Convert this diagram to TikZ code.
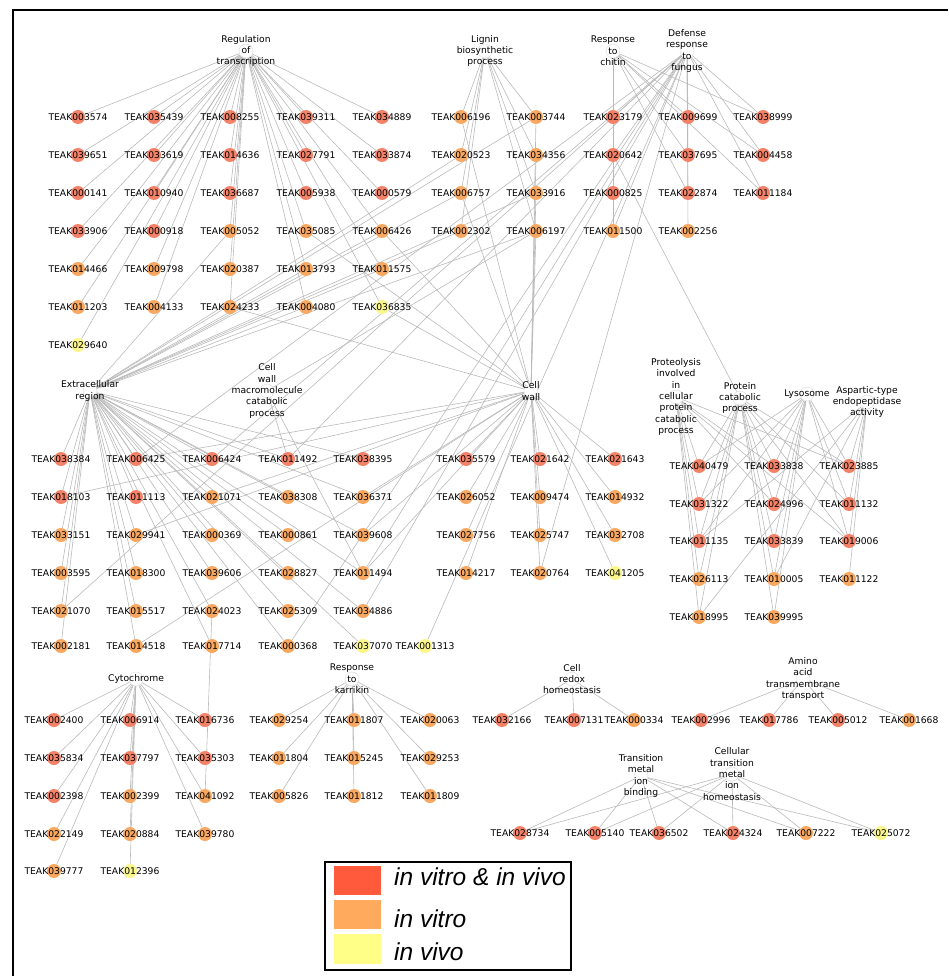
\documentclass[tikz,border=0pt]{standalone}
\usepackage{fontspec}
\setmainfont{DejaVu Sans}
\newfontfamily\legendfont{Liberation Sans}
\usetikzlibrary{backgrounds}
\definecolor{bothc}{RGB}{243,130,104}
\definecolor{vitroc}{RGB}{248,168,96}
\definecolor{vivoc}{RGB}{250,246,140}
\definecolor{keyboth}{RGB}{255,90,60}
\definecolor{keyvitro}{RGB}{255,170,92}
\definecolor{keyvivo}{RGB}{255,255,136}
\tikzset{
  both/.style={circle,fill=bothc,minimum size=14pt,inner sep=0pt},
  vitro/.style={circle,fill=vitroc,minimum size=14pt,inner sep=0pt},
  vivo/.style={circle,fill=vivoc,minimum size=14pt,inner sep=0pt},
  term/.style={circle,draw=black!15,fill=white,minimum size=14pt,inner sep=0pt},
  every label/.style={font=\fontsize{9.2}{11.3}\selectfont,align=center,inner sep=0pt},
}
\begin{document}
\begin{tikzpicture}[x=1pt,y=-1pt]
\useasboundingbox (0,0) rectangle (948,976);
\draw[line width=1.5pt] (13,976) -- (13,10) -- (948,10);

% go terms
\node[term,label=center:Regulation\\of\\transcription] (reg) at (246,51) {};
\node[term,label=center:Lignin\\biosynthetic\\process] (lig) at (485,51) {};
\node[term,label=center:Response\\to\\chitin] (chi) at (613,51) {};
\node[term,label=center:Defense\\response\\to\\fungus] (fun) at (687,51) {};
\node[term,label=center:Extracellular\\region] (ecr) at (90,391) {};
\node[term,label=center:Cell\\wall\\macromolecule\\catabolic\\process] (cwm) at (267,391) {};
\node[term,label=center:Cell\\wall] (cwl) at (531,391) {};
\node[term,label=center:Proteolysis\\involved\\in\\cellular\\protein\\catabolic\\process] (pro) at (676,397) {};
\node[term,label=center:Protein\\catabolic\\process] (pcp) at (740,398) {};
\node[term,label=center:Lysosome] (lys) at (807,394) {};
\node[term,label=center:Aspartic-type\\endopeptidase\\activity] (asp) at (867,402) {};
\node[term,label=center:Cytochrome] (cyt) at (136,679) {};
\node[term,label=center:Response\\to\\karrikin] (kar) at (352,679) {};
\node[term,label=center:Cell\\redox\\homeostasis] (red) at (572,679) {};
\node[term,label=center:Amino\\acid\\transmembrane\\transport] (ami) at (803,679) {};
\node[term,label=center:Transition\\metal\\ion\\binding] (tmb) at (641,776) {};
\node[term,label=center:Cellular\\transition\\metal\\ion\\homeostasis] (tmh) at (732,774) {};

% regulation of transcription
\node[both,label=center:TEAK003574] (t003574) at (78,117) {};
\node[both,label=center:TEAK039651] (t039651) at (78,155) {};
\node[both,label=center:TEAK000141] (t000141) at (78,193) {};
\node[both,label=center:TEAK033906] (t033906) at (78,231) {};
\node[vitro,label=center:TEAK014466] (t014466) at (78,269) {};
\node[vitro,label=center:TEAK011203] (t011203) at (78,307) {};
\node[vivo,label=center:TEAK029640] (t029640) at (78,345) {};
\node[both,label=center:TEAK035439] (t035439) at (154,117) {};
\node[both,label=center:TEAK033619] (t033619) at (154,155) {};
\node[both,label=center:TEAK010940] (t010940) at (154,193) {};
\node[both,label=center:TEAK000918] (t000918) at (154,231) {};
\node[vitro,label=center:TEAK009798] (t009798) at (154,269) {};
\node[vitro,label=center:TEAK004133] (t004133) at (154,307) {};
\node[both,label=center:TEAK008255] (t008255) at (230,117) {};
\node[both,label=center:TEAK014636] (t014636) at (230,155) {};
\node[both,label=center:TEAK036687] (t036687) at (230,193) {};
\node[vitro,label=center:TEAK005052] (t005052) at (230,231) {};
\node[vitro,label=center:TEAK020387] (t020387) at (230,269) {};
\node[vitro,label=center:TEAK024233] (t024233) at (230,307) {};
\node[both,label=center:TEAK039311] (t039311) at (306,117) {};
\node[both,label=center:TEAK027791] (t027791) at (306,155) {};
\node[both,label=center:TEAK005938] (t005938) at (306,193) {};
\node[vitro,label=center:TEAK035085] (t035085) at (306,231) {};
\node[vitro,label=center:TEAK013793] (t013793) at (306,269) {};
\node[vitro,label=center:TEAK004080] (t004080) at (306,307) {};
\node[both,label=center:TEAK034889] (t034889) at (382,117) {};
\node[both,label=center:TEAK033874] (t033874) at (382,155) {};
\node[both,label=center:TEAK000579] (t000579) at (382,193) {};
\node[vitro,label=center:TEAK006426] (t006426) at (382,231) {};
\node[vitro,label=center:TEAK011575] (t011575) at (382,269) {};
\node[vivo,label=center:TEAK036835] (t036835) at (382,307) {};

% lignin, chitin, fungus
\node[vitro,label=center:TEAK006196] (t006196) at (461,117) {};
\node[vitro,label=center:TEAK020523] (t020523) at (461,155) {};
\node[vitro,label=center:TEAK006757] (t006757) at (461,193) {};
\node[vitro,label=center:TEAK002302] (t002302) at (461,231) {};
\node[vitro,label=center:TEAK003744] (t003744) at (536,117) {};
\node[vitro,label=center:TEAK034356] (t034356) at (536,155) {};
\node[vitro,label=center:TEAK033916] (t033916) at (536,193) {};
\node[vitro,label=center:TEAK006197] (t006197) at (536,231) {};
\node[both,label=center:TEAK023179] (t023179) at (613,117) {};
\node[both,label=center:TEAK020642] (t020642) at (613,155) {};
\node[both,label=center:TEAK000825] (t000825) at (613,193) {};
\node[vitro,label=center:TEAK011500] (t011500) at (613,231) {};
\node[both,label=center:TEAK009699] (t009699) at (688,117) {};
\node[both,label=center:TEAK037695] (t037695) at (688,155) {};
\node[both,label=center:TEAK022874] (t022874) at (688,193) {};
\node[vitro,label=center:TEAK002256] (t002256) at (688,231) {};
\node[both,label=center:TEAK038999] (t038999) at (763,117) {};
\node[both,label=center:TEAK004458] (t004458) at (763,155) {};
\node[both,label=center:TEAK011184] (t011184) at (763,193) {};

% extracellular region
\node[both,label=center:TEAK038384] (t038384) at (61,459) {};
\node[both,label=center:TEAK018103] (t018103) at (61,497) {};
\node[vitro,label=center:TEAK033151] (t033151) at (61,535) {};
\node[vitro,label=center:TEAK003595] (t003595) at (61,573) {};
\node[vitro,label=center:TEAK021070] (t021070) at (61,611) {};
\node[vitro,label=center:TEAK002181] (t002181) at (61,646) {};
\node[both,label=center:TEAK006425] (t006425) at (136,459) {};
\node[both,label=center:TEAK011113] (t011113) at (136,497) {};
\node[vitro,label=center:TEAK029941] (t029941) at (136,535) {};
\node[vitro,label=center:TEAK018300] (t018300) at (136,573) {};
\node[vitro,label=center:TEAK015517] (t015517) at (136,611) {};
\node[vitro,label=center:TEAK014518] (t014518) at (136,646) {};
\node[both,label=center:TEAK006424] (t006424) at (212,459) {};
\node[vitro,label=center:TEAK021071] (t021071) at (212,497) {};
\node[vitro,label=center:TEAK000369] (t000369) at (212,535) {};
\node[vitro,label=center:TEAK039606] (t039606) at (212,573) {};
\node[vitro,label=center:TEAK024023] (t024023) at (212,611) {};
\node[vitro,label=center:TEAK017714] (t017714) at (212,646) {};
\node[both,label=center:TEAK011492] (t011492) at (288,459) {};
\node[vitro,label=center:TEAK038308] (t038308) at (288,497) {};
\node[vitro,label=center:TEAK000861] (t000861) at (288,535) {};
\node[vitro,label=center:TEAK028827] (t028827) at (288,573) {};
\node[vitro,label=center:TEAK025309] (t025309) at (288,611) {};
\node[vitro,label=center:TEAK000368] (t000368) at (288,646) {};
\node[both,label=center:TEAK038395] (t038395) at (363,459) {};
\node[vitro,label=center:TEAK036371] (t036371) at (363,497) {};
\node[vitro,label=center:TEAK039608] (t039608) at (363,535) {};
\node[vitro,label=center:TEAK011494] (t011494) at (363,573) {};
\node[vitro,label=center:TEAK034886] (t034886) at (363,611) {};
\node[vivo,label=center:TEAK037070] (t037070) at (363,646) {};
\node[vivo,label=center:TEAK001313] (t001313) at (425,646) {};

% cell wall
\node[both,label=center:TEAK035579] (t035579) at (466,459) {};
\node[vitro,label=center:TEAK026052] (t026052) at (466,497) {};
\node[vitro,label=center:TEAK027756] (t027756) at (466,535) {};
\node[vitro,label=center:TEAK014217] (t014217) at (466,573) {};
\node[both,label=center:TEAK021642] (t021642) at (540,459) {};
\node[vitro,label=center:TEAK009474] (t009474) at (540,497) {};
\node[vitro,label=center:TEAK025747] (t025747) at (540,535) {};
\node[vitro,label=center:TEAK020764] (t020764) at (540,573) {};
\node[both,label=center:TEAK021643] (t021643) at (615,459) {};
\node[vitro,label=center:TEAK014932] (t014932) at (615,497) {};
\node[vitro,label=center:TEAK032708] (t032708) at (615,535) {};
\node[vivo,label=center:TEAK041205] (t041205) at (615,573) {};

% proteolysis cluster
\node[both,label=center:TEAK040479] (t040479) at (699,466) {};
\node[both,label=center:TEAK031322] (t031322) at (699,504) {};
\node[both,label=center:TEAK011135] (t011135) at (699,541) {};
\node[vitro,label=center:TEAK026113] (t026113) at (699,579) {};
\node[vitro,label=center:TEAK018995] (t018995) at (699,617) {};
\node[both,label=center:TEAK033838] (t033838) at (774,466) {};
\node[both,label=center:TEAK024996] (t024996) at (774,504) {};
\node[both,label=center:TEAK033839] (t033839) at (774,541) {};
\node[vitro,label=center:TEAK010005] (t010005) at (774,579) {};
\node[vitro,label=center:TEAK039995] (t039995) at (774,617) {};
\node[both,label=center:TEAK023885] (t023885) at (849,466) {};
\node[both,label=center:TEAK011132] (t011132) at (849,504) {};
\node[both,label=center:TEAK019006] (t019006) at (849,541) {};
\node[vitro,label=center:TEAK011122] (t011122) at (849,579) {};

% cytochrome
\node[both,label=center:TEAK002400] (t002400) at (54,720) {};
\node[both,label=center:TEAK035834] (t035834) at (54,758) {};
\node[both,label=center:TEAK002398] (t002398) at (54,796) {};
\node[vitro,label=center:TEAK022149] (t022149) at (54,834) {};
\node[vitro,label=center:TEAK039777] (t039777) at (54,871) {};
\node[both,label=center:TEAK006914] (t006914) at (130,720) {};
\node[both,label=center:TEAK037797] (t037797) at (130,758) {};
\node[vitro,label=center:TEAK002399] (t002399) at (130,796) {};
\node[vitro,label=center:TEAK020884] (t020884) at (130,834) {};
\node[vivo,label=center:TEAK012396] (t012396) at (130,871) {};
\node[both,label=center:TEAK016736] (t016736) at (205,720) {};
\node[both,label=center:TEAK035303] (t035303) at (205,758) {};
\node[vitro,label=center:TEAK041092] (t041092) at (205,796) {};
\node[vitro,label=center:TEAK039780] (t039780) at (205,834) {};

% karrikin
\node[vitro,label=center:TEAK029254] (t029254) at (279,720) {};
\node[vitro,label=center:TEAK011804] (t011804) at (279,758) {};
\node[vitro,label=center:TEAK005826] (t005826) at (279,796) {};
\node[vitro,label=center:TEAK011807] (t011807) at (354,720) {};
\node[vitro,label=center:TEAK015245] (t015245) at (354,758) {};
\node[vitro,label=center:TEAK011812] (t011812) at (354,796) {};
\node[vitro,label=center:TEAK020063] (t020063) at (430,720) {};
\node[vitro,label=center:TEAK029253] (t029253) at (430,758) {};
\node[vitro,label=center:TEAK011809] (t011809) at (430,796) {};

% redox, amino acid, metal
\node[both,label=center:TEAK032166] (t032166) at (502,720) {};
\node[both,label=center:TEAK007131] (t007131) at (574,720) {};
\node[vitro,label=center:TEAK000334] (t000334) at (634,720) {};
\node[both,label=center:TEAK002996] (t002996) at (701,720) {};
\node[both,label=center:TEAK017786] (t017786) at (769,720) {};
\node[both,label=center:TEAK005012] (t005012) at (838,720) {};
\node[vitro,label=center:TEAK001668] (t001668) at (909,720) {};
\node[both,label=center:TEAK028734] (t028734) at (520,833) {};
\node[both,label=center:TEAK005140] (t005140) at (595,833) {};
\node[both,label=center:TEAK036502] (t036502) at (659,833) {};
\node[both,label=center:TEAK024324] (t024324) at (733,833) {};
\node[vitro,label=center:TEAK007222] (t007222) at (806,833) {};
\node[vivo,label=center:TEAK025072] (t025072) at (881,833) {};

\begin{pgfonlayer}{background}
\begin{scope}[black!27,line width=0.6pt]
\draw (reg) edge (t003574);
\draw (reg) edge (t039651);
\draw (reg) edge (t000141);
\draw (reg) edge (t033906);
\draw (reg) edge (t014466);
\draw (reg) edge (t011203);
\draw (reg) edge (t029640);
\draw (reg) edge (t035439);
\draw (reg) edge (t033619);
\draw (reg) edge (t010940);
\draw (reg) edge (t000918);
\draw (reg) edge (t009798);
\draw (reg) edge (t004133);
\draw (reg) edge (t008255);
\draw (reg) edge (t014636);
\draw (reg) edge (t036687);
\draw (reg) edge (t005052);
\draw (reg) edge (t020387);
\draw (reg) edge (t024233);
\draw (reg) edge (t039311);
\draw (reg) edge (t027791);
\draw (reg) edge (t005938);
\draw (reg) edge (t035085);
\draw (reg) edge (t013793);
\draw (reg) edge (t004080);
\draw (reg) edge (t034889);
\draw (reg) edge (t033874);
\draw (reg) edge (t000579);
\draw (reg) edge (t006426);
\draw (reg) edge (t011575);
\draw (reg) edge (t036835);

\draw (lig) edge (t006196);
\draw (lig) edge (t020523);
\draw (lig) edge (t006757);
\draw (lig) edge (t002302);
\draw (lig) edge (t003744);
\draw (lig) edge (t034356);
\draw (lig) edge (t033916);
\draw (lig) edge (t006197);

\draw (chi) edge (t023179);
\draw (chi) edge (t020642);
\draw (chi) edge (t000825);
\draw (chi) edge (t011500);
\draw (chi) edge (t009699);
\draw (chi) edge (t037695);
\draw (chi) edge (t022874);
\draw (chi) edge (t038999);
\draw (chi) edge (t004458);
\draw (chi) edge (t011184);

\draw (fun) edge (t023179);
\draw (fun) edge (t020642);
\draw (fun) edge (t009699);
\draw (fun) edge (t037695);
\draw (fun) edge (t022874);
\draw (fun) edge (t002256);
\draw (fun) edge (t038999);
\draw (fun) edge (t004458);
\draw (fun) edge (t011184);
\draw (fun) edge (t011500);
\draw (fun) edge (t006425);
\draw (fun) edge (t006424);
\draw (fun) edge (t011492);
\draw (fun) edge (t011494);
\draw (fun) edge (t034886);
\draw (fun) edge (t000368);
\draw (fun) edge (t021070);
\draw (fun) edge (t020764);
\draw (fun) edge (t001313);

\draw (ecr) edge (t038384);
\draw (ecr) edge (t018103);
\draw (ecr) edge (t033151);
\draw (ecr) edge (t003595);
\draw (ecr) edge (t021070);
\draw (ecr) edge (t002181);
\draw (ecr) edge (t006425);
\draw (ecr) edge (t011113);
\draw (ecr) edge (t029941);
\draw (ecr) edge (t018300);
\draw (ecr) edge (t015517);
\draw (ecr) edge (t014518);
\draw (ecr) edge (t006424);
\draw (ecr) edge (t021071);
\draw (ecr) edge (t000369);
\draw (ecr) edge (t039606);
\draw (ecr) edge (t024023);
\draw (ecr) edge (t017714);
\draw (ecr) edge (t011492);
\draw (ecr) edge (t038308);
\draw (ecr) edge (t000861);
\draw (ecr) edge (t028827);
\draw (ecr) edge (t025309);
\draw (ecr) edge (t000368);
\draw (ecr) edge (t038395);
\draw (ecr) edge (t036371);
\draw (ecr) edge (t039608);
\draw (ecr) edge (t011494);
\draw (ecr) edge (t034886);
\draw (ecr) edge (t037070);
\draw (ecr) edge (t006757);
\draw (ecr) edge (t002302);
\draw (ecr) edge (t006197);
\draw (ecr) edge (t033916);
\draw (ecr) edge (t003744);
\draw (ecr) edge (t020523);
\draw (ecr) edge (t004080);
\draw (ecr) edge (t005052);
\draw (ecr) edge (t011575);
\draw (ecr) edge (t006426);
\draw (ecr) edge (t013793);

\draw (cwm) edge (t011492);
\draw (cwm) edge (t011494);
\draw (cwm) edge (t006197);

\draw (cwl) edge (t035579);
\draw (cwl) edge (t026052);
\draw (cwl) edge (t027756);
\draw (cwl) edge (t014217);
\draw (cwl) edge (t021642);
\draw (cwl) edge (t009474);
\draw (cwl) edge (t025747);
\draw (cwl) edge (t020764);
\draw (cwl) edge (t021643);
\draw (cwl) edge (t014932);
\draw (cwl) edge (t032708);
\draw (cwl) edge (t041205);
\draw (cwl) edge (t006196);
\draw (cwl) edge (t006757);
\draw (cwl) edge (t003744);
\draw (cwl) edge (t034356);
\draw (cwl) edge (t033916);
\draw (cwl) edge (t006197);
\draw (cwl) edge (t024233);
\draw (cwl) edge (t035085);
\draw (cwl) edge (t006426);
\draw (cwl) edge (t036835);
\draw (cwl) edge (t018103);
\draw (cwl) edge (t029941);
\draw (cwl) edge (t021071);
\draw (cwl) edge (t036371);
\draw (cwl) edge (t011494);
\draw (cwl) edge (t014518);
\draw (cwl) edge (t039608);
\draw (cwl) edge (t006425);

\draw (pro) edge (t040479);
\draw (pro) edge (t031322);
\draw (pro) edge (t011135);
\draw (pro) edge (t026113);
\draw (pro) edge (t018995);
\draw (pro) edge (t033838);
\draw (pro) edge (t024996);
\draw (pro) edge (t023885);
\draw (pro) edge (t019006);

\draw (pcp) edge (t040479);
\draw (pcp) edge (t031322);
\draw (pcp) edge (t011135);
\draw (pcp) edge (t026113);
\draw (pcp) edge (t018995);
\draw (pcp) edge (t033838);
\draw (pcp) edge (t024996);
\draw (pcp) edge (t033839);
\draw (pcp) edge (t010005);
\draw (pcp) edge (t039995);
\draw (pcp) edge (t023885);
\draw (pcp) edge (t011132);
\draw (pcp) edge (t019006);
\draw (pcp) edge (t020642);

\draw (lys) edge (t040479);
\draw (lys) edge (t031322);
\draw (lys) edge (t011135);
\draw (lys) edge (t033838);
\draw (lys) edge (t024996);
\draw (lys) edge (t033839);
\draw (lys) edge (t010005);
\draw (lys) edge (t039995);
\draw (lys) edge (t023885);
\draw (lys) edge (t011132);
\draw (lys) edge (t019006);

\draw (asp) edge (t023885);
\draw (asp) edge (t011132);
\draw (asp) edge (t019006);
\draw (asp) edge (t011122);
\draw (asp) edge (t018995);
\draw (asp) edge (t010005);
\draw (asp) edge (t011135);

\draw (cyt) edge (t002400);
\draw (cyt) edge (t035834);
\draw (cyt) edge (t002398);
\draw (cyt) edge (t022149);
\draw (cyt) edge (t039777);
\draw (cyt) edge (t006914);
\draw (cyt) edge (t037797);
\draw (cyt) edge (t002399);
\draw (cyt) edge (t020884);
\draw (cyt) edge (t012396);
\draw (cyt) edge (t016736);
\draw (cyt) edge (t035303);
\draw (cyt) edge (t041092);
\draw (cyt) edge (t039780);
\draw (t024023) edge (t041092);

\draw (kar) edge (t029254);
\draw (kar) edge (t011804);
\draw (kar) edge (t005826);
\draw (kar) edge (t011807);
\draw (kar) edge (t015245);
\draw (kar) edge (t011812);
\draw (kar) edge (t020063);
\draw (kar) edge (t029253);
\draw (kar) edge (t011809);

\draw (red) edge (t032166);
\draw (red) edge (t007131);
\draw (red) edge (t000334);

\draw (ami) edge (t002996);
\draw (ami) edge (t017786);
\draw (ami) edge (t005012);
\draw (ami) edge (t001668);

\draw (tmb) edge (t028734);
\draw (tmb) edge (t005140);
\draw (tmb) edge (t036502);
\draw (tmb) edge (t024324);
\draw (tmb) edge (t007222);
\draw (tmb) edge (t025072);
\draw (tmh) edge (t028734);
\draw (tmh) edge (t005140);
\draw (tmh) edge (t036502);
\draw (tmh) edge (t024324);
\draw (tmh) edge (t007222);
\draw (tmh) edge (t025072);
\end{scope}
\end{pgfonlayer}

% legend
\draw[line width=1.5pt] (325,862) rectangle (571,970);
\fill[keyboth] (334,866) rectangle (381,895);
\fill[keyvitro] (334,900) rectangle (381,929);
\fill[keyvivo] (334,934) rectangle (381,964);
\node[anchor=base west,inner sep=0pt,font=\legendfont\itshape\fontsize{24.5}{26}\selectfont] (kb) at (394,885) {in vitro \& in vivo};
\node[anchor=base west,inner sep=0pt,font=\legendfont\itshape\fontsize{24.5}{26}\selectfont] (kt) at (394,927) {in vitro};
\node[anchor=base west,inner sep=0pt,font=\legendfont\itshape\fontsize{24.5}{26}\selectfont] (kv) at (394,960) {in vivo};
\end{tikzpicture}
\end{document}
